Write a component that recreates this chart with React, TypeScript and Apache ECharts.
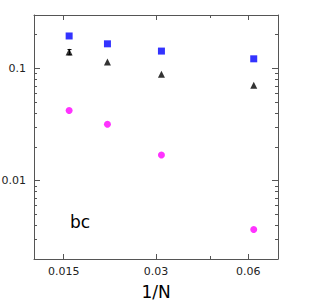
import React, { useEffect, useRef } from "react";
import * as echarts from "echarts";

const invN = [1 / 64, 1 / 48, 1 / 32, 1 / 16];
const squares = [0.195, 0.166, 0.143, 0.122];
const triangles = [0.14, 0.114, 0.089, 0.071];
const circles = [0.0422, 0.0318, 0.0169, 0.00367];
const triErr = [[1 / 64, 0.1325, 0.1475]];
const xMajor = [0.015, 0.03, 0.06];
const xMinor = [0.045];
const yMajor = [0.01, 0.1];
const yMinor = [
  0.003, 0.004, 0.005, 0.006, 0.007, 0.008, 0.009,
  0.02, 0.03, 0.04, 0.05, 0.06, 0.07, 0.08, 0.09, 0.2,
];
const panelLabel = "bc";

const AXIS = "#555555";
const FONT = "DejaVu Sans";

export default function App() {
  const ref = useRef<HTMLDivElement>(null);
  useEffect(() => {
    const chart = echarts.init(ref.current!, null, { renderer: "svg" });
    const gridBox = { left: 34, top: 15, width: 244, height: 244, containLabel: false, outerBoundsMode: "none" };
    const fmt = (v: any) => String(+Number(v).toPrecision(3));
    const baseX = (gridIndex: number, position: string, ticks: number[], len: number, labels: boolean, line: boolean) => ({
      type: "log",
      gridIndex,
      position,
      min: 0.012,
      max: 0.075,
      axisLine: { show: line, lineStyle: { color: AXIS, width: 1 } },
      axisTick: { show: true, inside: true, length: len, customValues: ticks, lineStyle: { color: AXIS } },
      axisLabel: labels
        ? { show: true, customValues: ticks, formatter: fmt, margin: 7, fontSize: 11, color: "#222", fontFamily: FONT }
        : { show: false },
      splitLine: { show: false },
      minorTick: { show: false },
      ...(labels
        ? {
            name: "1/N",
            nameLocation: "middle",
            nameGap: 24,
            nameTextStyle: { fontSize: 17, color: "#000", fontFamily: FONT },
          }
        : {}),
    });
    const baseY = (gridIndex: number, position: string, ticks: number[], len: number, labels: boolean, line: boolean) => ({
      type: "log",
      gridIndex,
      position,
      min: 0.002,
      max: 0.3,
      axisLine: { show: line, lineStyle: { color: AXIS, width: 1 } },
      axisTick: { show: true, inside: true, length: len, customValues: ticks, lineStyle: { color: AXIS } },
      axisLabel: labels
        ? { show: true, customValues: ticks, formatter: fmt, margin: 8, fontSize: 11, color: "#222", fontFamily: FONT }
        : { show: false },
      splitLine: { show: false },
      minorTick: { show: false },
    });
    chart.setOption({
      animation: false,
      grid: [{ ...gridBox }, { ...gridBox }],
      xAxis: [
        baseX(0, "bottom", xMajor, 5, true, true),
        baseX(0, "top", xMajor, 5, false, true),
        baseX(1, "bottom", xMinor, 3, false, false),
        baseX(1, "top", xMinor, 3, false, false),
      ],
      yAxis: [
        baseY(0, "left", yMajor, 6, true, true),
        baseY(0, "right", yMajor, 6, false, true),
        baseY(1, "left", yMinor, 3, false, false),
        baseY(1, "right", yMinor, 3, false, false),
      ],
      series: [
        {
          type: "scatter",
          xAxisIndex: 0,
          yAxisIndex: 0,
          symbol: "rect",
          symbolSize: 7,
          itemStyle: { color: "#0000ff" },
          data: invN.map((x, i) => [x, squares[i]]),
        },
        {
          type: "custom",
          xAxisIndex: 0,
          yAxisIndex: 0,
          data: triErr,
          renderItem: (params: any, api: any) => {
            const x = api.value(0);
            const lo = api.coord([x, api.value(1)]);
            const hi = api.coord([x, api.value(2)]);
            const cx = Math.round(lo[0]) + 0.5;
            return {
              type: "group",
              children: [
                { type: "line", shape: { x1: cx, y1: lo[1], x2: cx, y2: hi[1] }, style: { stroke: "#000", lineWidth: 1 } },
                { type: "line", shape: { x1: cx - 2, y1: hi[1], x2: cx + 2, y2: hi[1] }, style: { stroke: "#000", lineWidth: 1 } },
                { type: "line", shape: { x1: cx - 2, y1: lo[1], x2: cx + 2, y2: lo[1] }, style: { stroke: "#000", lineWidth: 1 } },
              ],
            };
          },
        },
        {
          type: "scatter",
          xAxisIndex: 0,
          yAxisIndex: 0,
          symbol: "triangle",
          symbolSize: 7,
          itemStyle: { color: "#000000" },
          data: invN.map((x, i) => [x, triangles[i]]),
        },
        {
          type: "scatter",
          xAxisIndex: 0,
          yAxisIndex: 0,
          symbol: "circle",
          symbolSize: 7,
          itemStyle: { color: "#ff00ff" },
          data: invN.map((x, i) => [x, circles[i]]),
        },
      ],
      graphic: [
        {
          type: "text",
          left: 70,
          top: 213,
          style: { text: panelLabel, fontSize: 17, fill: "#000", fontFamily: FONT },
        },
      ],
    });
    return () => chart.dispose();
  }, []);
  return (
    <div
      ref={ref}
      style={{ position: "fixed", left: 0, top: 0, width: 334, height: 300, background: "#fff" }}
    />
  );
}
